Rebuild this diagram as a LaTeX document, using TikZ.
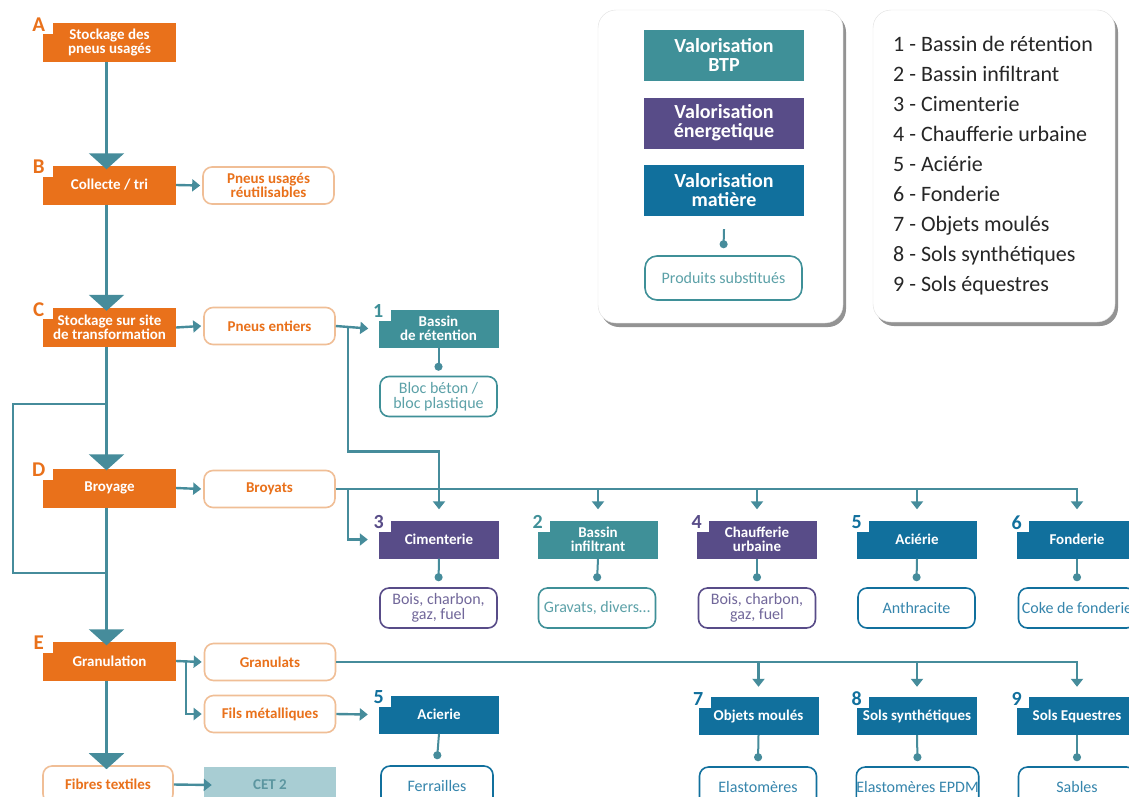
\documentclass[tikz,border=0pt]{standalone}
\usepackage{fontspec}
\setmainfont{Carlito}
\usetikzlibrary{arrows.meta,calc,shadows}

\definecolor{orng}{RGB}{233,113,27}
\definecolor{orngline}{RGB}{240,190,150}
\definecolor{tealb}{RGB}{63,144,152}
\definecolor{purp}{RGB}{88,76,136}
\definecolor{blu}{RGB}{17,112,157}
\definecolor{linec}{RGB}{70,140,155}
\definecolor{cetc}{RGB}{168,205,211}
\definecolor{cettext}{RGB}{92,150,160}

\begin{document}
\begin{tikzpicture}[x=1pt,y=-1pt,
    stage/.style={fill=orng,text=white,font=\bfseries\fontsize{15}{14}\selectfont,align=center,
      minimum width=133pt,minimum height=39pt,inner sep=0pt,
      path picture={\fill[white] (path picture bounding box.north west) rectangle ++(10pt,-11pt);},
      label={[anchor=center,xshift=-4pt,yshift=-1.5pt,text=orng,font=\bfseries\fontsize{21}{21}\selectfont]north west:#1}},
    orbox/.style={draw=orngline,line width=1.6pt,fill=white,rounded corners=9pt,text=orng,
      font=\bfseries\fontsize{15}{14}\selectfont,align=center,minimum width=131pt,minimum height=37pt,inner sep=0pt},
    cetbox/.style={fill=cetc,text=cettext,font=\bfseries\fontsize{15}{14}\selectfont,
      minimum width=132pt,minimum height=36pt,inner sep=0pt},
    valor/.style 2 args={fill=#1,text=white,font=\bfseries\fontsize{15}{14}\selectfont,align=center,
      minimum width=120pt,minimum height=38pt,inner sep=0pt,
      path picture={\fill[white] (path picture bounding box.north west) rectangle ++(12pt,-11pt);},
      label={[anchor=center,yshift=-2pt,text=#1,font=\bfseries\fontsize{20}{20}\selectfont]north west:#2}},
    res/.style={draw=#1,text=#1!85!white,line width=1.6pt,fill=white,rounded corners=9pt,
      font=\fontsize{16}{15}\selectfont,align=center,minimum width=117pt,minimum height=40pt,inner sep=0pt},
    leg/.style={fill=#1,text=white,font=\bfseries\fontsize{20}{19}\selectfont,align=center,
      minimum width=160pt,minimum height=51pt,inner sep=0pt},
    card/.style={fill=white,draw=black!12,rounded corners=18pt,
      drop shadow={shadow xshift=3pt,shadow yshift=-4pt,fill=black!60,opacity=0.7}},
    link/.style={draw=linec,line width=2.4pt},
    arr/.style={link,-{Triangle[width=12pt,length=8pt]}},
    trunk/.style={link,-{Triangle[width=35pt,length=16pt]}},
    dotl/.style={draw=linec,line width=2pt,-{Circle[length=8pt]}}]

  \fill[white] (0,0) rectangle (1129,796);
  \useasboundingbox (0,0) rectangle (1129,796);

  \node[stage=A] (A) at (109.5,42.5) {Stockage des\\pneus usagés};
  \node[stage=B] (B) at (109.5,185) {Collecte / tri};
  \node[stage=C] (C) at (109.5,327.5) {Stockage sur site\\de transformation};
  \node[stage=D] (D) at (109.5,488) {Broyage};
  \node[stage=E] (E) at (109.5,661) {Granulation};

  \node[orbox] (reuse) at (268.5,185.5) {Pneus usagés\\réutilisables};
  \node[orbox] (entiers) at (269.5,326) {Pneus entiers};
  \node[orbox] (broyats) at (269.5,489) {Broyats};
  \node[orbox] (granulats) at (270,662) {Granulats};
  \node[orbox] (fils) at (270,714) {Fils métalliques};
  \node[orbox,minimum width=130pt] (fibres) at (108,784.5) {Fibres textiles};
  \node[cetbox] (cet) at (270,785) {CET 2};

  \node[valor={tealb}{1}] (bassin1) at (438.5,328.5) {Bassin\\de rétention};
  \node[valor={purp}{3}] (ciment) at (439,539.5) {Cimenterie};
  \node[valor={tealb}{2}] (bassin2) at (598,539.5) {Bassin\\infiltrant};
  \node[valor={purp}{4}] (chauff) at (757,539.5) {Chaufferie\\urbaine};
  \node[valor={blu}{5}] (acierie) at (917,539.5) {Aciérie};
  \node[valor={blu}{6}] (fonderie) at (1077,539.5) {Fonderie};
  \node[valor={blu}{5}] (acier) at (439,714.5) {Acierie};
  \node[valor={blu}{7}] (objets) at (758.5,716) {Objets moulés};
  \node[valor={blu}{8}] (solsyn) at (917,716) {Sols synthétiques};
  \node[valor={blu}{9}] (solequ) at (1077,716) {Sols Equestres};

  \node[res=tealb] (bloc) at (438.5,396.5) {Bloc béton /\\bloc plastique};
  \node[res=purp] (bois1) at (438.5,608) {Bois, charbon,\\gaz, fuel};
  \node[res=tealb] (gravats) at (597,608) {Gravats, divers\ldots};
  \node[res=purp] (bois2) at (757,608) {Bois, charbon,\\gaz, fuel};
  \node[res=blu] (anthra) at (916.5,608) {Anthracite};
  \node[res=blu] (coke) at (1077,608) {Coke de fonderie};
  \node[res=blu,minimum width=112pt] (ferr) at (437,786) {Ferrailles};
  \node[res=blu] (elast) at (758,787) {Elastomères};
  \node[res=blu] (epdm) at (917.5,787) {Elastomères EPDM};
  \node[res=blu] (sables) at (1077,787) {Sables};

  \coordinate (t) at (106.5,0);
  \coordinate (lup) at (106.5,404);
  \coordinate (ldn) at (106.5,573);
  \coordinate (j1) at (348,326);
  \coordinate (j3) at (186,661);

  \draw[trunk] (A.south -| t) -- ($(B.north -| t)+(0,4)$);
  \draw[trunk] (B.south -| t) -- ($(C.north -| t)+(0,3)$);
  \draw[trunk] (C.south -| t) -- ($(D.north -| t)+(0,2)$);
  \draw[trunk] (D.south -| t) -- ($(E.north -| t)+(0,4)$);
  \draw[trunk] (E.south -| t) -- ($(fibres.north -| t)+(0,4)$);
  \draw[link] (lup) -- ++(-93.5,0) |- (ldn);

  \draw[arr] (B.east) -- ($(reuse.west)+(-2,0)$);
  \draw[arr] (C.east) -- ($(entiers.west)+(-2,0)$);
  \draw[arr] (D.east) -- ($(broyats.west)+(-2,0)$);
  \draw[arr] (E.east) -- ($(granulats.west)+(-2,0)$);
  \draw[arr] (j3) |- ($(fils.west)+(-2,0)$);
  \draw[arr] (fibres.east) -- ($(cet.west)+(8,0)$);
  \draw[arr] (fils.east) -- ($(acier.west)+(-11,0)$);

  \draw[arr] (entiers.east) -- ($(bassin1.west)+(-10,0)$);
  \draw[arr] (j1) |- ($(ciment.north)+(0,-69)$) -- ($(ciment.north)+(0,-11)$);
  \draw[arr] (broyats.east) -| ($(fonderie.north)+(0,-11)$);
  \draw[arr] (broyats.east -| bassin2.north) -- ($(bassin2.north)+(0,-11)$);
  \draw[arr] (broyats.east -| chauff.north) -- ($(chauff.north)+(0,-11)$);
  \draw[arr] (broyats.east -| acierie.north) -- ($(acierie.north)+(0,-11)$);
  \draw[arr] (broyats.east -| j1) |- ($(ciment.west)+(-11,0)$);

  \draw[arr] (granulats.east) -| ($(solequ.north)+(0,-10)$);
  \draw[arr] (granulats.east -| objets.north) -- ($(objets.north)+(0,-10)$);
  \draw[arr] (granulats.east -| solsyn.north) -- ($(solsyn.north)+(0,-10)$);

  \draw[dotl] (bassin1.south) -- ($(bloc.north)+(0,-5)$);
  \draw[dotl] (ciment.south) -- ($(bois1.north)+(0,-6)$);
  \draw[dotl] (bassin2.south) -- ($(gravats.north)+(0,-6)$);
  \draw[dotl] (chauff.south) -- ($(bois2.north)+(0,-6)$);
  \draw[dotl] (acierie.south) -- ($(anthra.north)+(0,-6)$);
  \draw[dotl] (fonderie.south) -- ($(coke.north)+(0,-6)$);
  \draw[dotl] (acier.south) -- ($(ferr.north)+(0,-6)$);
  \draw[dotl] (objets.south) -- ($(elast.north)+(0,-5)$);
  \draw[dotl] (solsyn.south) -- ($(epdm.north)+(0,-5)$);
  \draw[dotl] (solequ.south) -- ($(sables.north)+(0,-5)$);

  \node[card,minimum width=245pt,minimum height=313pt] (cardl) at (720.5,166.5) {};
  \node[card,minimum width=242pt,minimum height=312pt] (cardr) at (994,166) {};
  \node[leg=tealb] (lbtp) at (724,55) {Valorisation\\BTP};
  \node[leg=purp] (lener) at (724,123) {Valorisation\\énergetique};
  \node[leg=blu] (lmat) at (724,190.5) {Valorisation\\matière};
  \node[res=tealb,minimum width=157pt,minimum height=44pt,rounded corners=12pt] (prod) at (723.5,278) {Produits substitués};
  \draw[dotl] ($(lmat.south)+(0,13)$) -- ($(prod.north)+(0,-7)$);
  \node[anchor=north west,align=left,inner sep=0pt,text=black!85,font=\fontsize{22}{30}\selectfont] (liste) at (893,36)
    {1 - Bassin de rétention\\2 - Bassin infiltrant\\3 - Cimenterie\\4 - Chaufferie urbaine\\5 - Aciérie\\
     6 - Fonderie\\7 - Objets moulés\\8 - Sols synthétiques\\9 - Sols équestres};
\end{tikzpicture}
\end{document}
